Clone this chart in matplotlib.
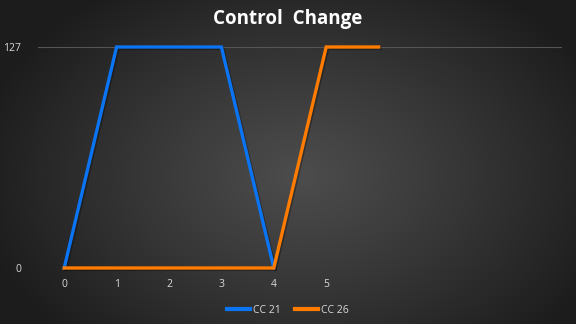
import numpy as np
import matplotlib
matplotlib.use("Agg")
import matplotlib.pyplot as plt
import matplotlib.patheffects as pe

categories = ["0", "1", "2", "3", "4", "5", "", "", "", ""]
cc21 = [0, 127, 127, 127, 0]
cc26 = [0, 0, 0, 0, 0, 127, 127]
yticks = [0, 127]

fig = plt.figure(figsize=(5.76, 3.24), dpi=100)

# radial gradient background
bg = fig.add_axes([0, 0, 1, 1], zorder=-10)
h, w = 324, 576
yy, xx = np.mgrid[0:h, 0:w]
cx, cy = 300, 175
r = np.sqrt(((xx - cx) / 330.0) ** 2 + ((yy - cy) / 230.0) ** 2)
r = np.clip(r, 0, 1)
inner, outer = 0x4c / 255.0, 0x1c / 255.0
val = inner + (outer - inner) * r ** 1.1
img = np.dstack([val, val, val])
bg.imshow(img, aspect="auto", extent=[0, 1, 0, 1], origin="upper")
bg.set_axis_off()

ax = fig.add_axes([38 / 576, 1 - 268 / 324, (562 - 38) / 576, (268 - 47) / 324])
ax.patch.set_alpha(0)
x = np.arange(len(categories))
shadow = [pe.SimpleLineShadow(offset=(1, -1), shadow_color="black", alpha=0.3), pe.Normal()]
ax.plot(x[:len(cc21)], cc21, color="#0a74f2", lw=2.4, label="CC 21",
        solid_joinstyle="miter", path_effects=shadow, zorder=3, clip_on=False)
ax.plot(x[:len(cc26)], cc26, color="#ff7c00", lw=2.4, label="CC 26",
        solid_joinstyle="miter", path_effects=shadow, zorder=4, clip_on=False)

ax.set_xlim(-0.5, len(categories) - 0.5)
ax.set_ylim(0, 127)
ax.set_yticks(yticks)
ax.set_yticklabels([str(v) for v in yticks])
ax.set_xticks(x)
ax.set_xticklabels(categories)
for s in ax.spines.values():
    s.set_visible(False)
ax.grid(axis="y", color="#555555", lw=0.8)
ax.set_axisbelow(True)
ax.tick_params(axis="both", length=0, colors="#d9d9d9", labelsize=7.5)
ax.tick_params(axis="y", pad=12)
ax.tick_params(axis="x", pad=8)
for lab in ax.get_xticklabels() + ax.get_yticklabels():
    lab.set_fontfamily("Open Sans")

fig.text(0.5, 0.94, "Control  Change", ha="center", va="center", color="white",
         fontsize=13.5, fontweight="bold", family="Open Sans")

leg = fig.legend(loc="center", bbox_to_anchor=(0.5, 0.043), ncol=2, frameon=False,
                 fontsize=7.5, handlelength=2.2, columnspacing=1.3, handletextpad=0.3)
for t in leg.get_texts():
    t.set_color("#d9d9d9")
    t.set_fontfamily("Open Sans")
for l in leg.get_lines():
    l.set_linewidth(3)
    l.set_path_effects([])

fig.savefig("out.png", dpi=100)
